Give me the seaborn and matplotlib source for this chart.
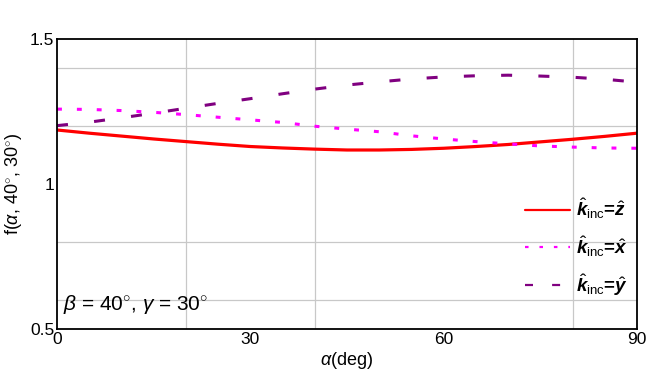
import numpy as np
import pandas as pd
import matplotlib
matplotlib.use("Agg")
import matplotlib.pyplot as plt
import seaborn as sns

# values (alpha every 5 deg)
alpha = [0, 5, 10, 15, 20, 25, 30, 35, 40, 45, 50, 55, 60, 65, 70, 75, 80, 85, 90]
f_z = [1.187, 1.176, 1.166, 1.156, 1.147, 1.138, 1.130, 1.125, 1.121, 1.118,
       1.118, 1.120, 1.124, 1.130, 1.137, 1.146, 1.155, 1.165, 1.176]
f_x = [1.259, 1.258, 1.254, 1.248, 1.240, 1.231, 1.222, 1.213, 1.200, 1.190,
       1.181, 1.167, 1.156, 1.147, 1.139, 1.132, 1.128, 1.125, 1.124]
f_y = [1.202, 1.214, 1.229, 1.245, 1.262, 1.279, 1.295, 1.312, 1.328, 1.342,
       1.353, 1.363, 1.370, 1.374, 1.376, 1.373, 1.369, 1.362, 1.352]

x_ticks = [0, 30, 60, 90]
y_ticks = [0.5, 1.0, 1.5]
y_tick_labels = ["0.5", "1", "1.5"]
x_grid = [20, 40, 60, 80]
y_grid = [0.6, 0.8, 1.0, 1.2, 1.4]

sns.set_theme(style="white")
plt.rcParams['font.family'] = ['Liberation Sans', 'DejaVu Sans']
plt.rcParams['text.color'] = 'black'
plt.rcParams['axes.labelcolor'] = 'black'
plt.rcParams['mathtext.fontset'] = 'custom'
plt.rcParams['mathtext.rm'] = 'Liberation Sans'
plt.rcParams['mathtext.it'] = 'Liberation Sans:italic'
plt.rcParams['mathtext.bf'] = 'Liberation Sans:bold'
plt.rcParams['mathtext.bfit'] = 'Liberation Sans:bold:italic'

df = pd.DataFrame({'alpha': alpha, 'z': f_z, 'x': f_x, 'y': f_y})

fig = plt.figure(figsize=(6.48, 3.81), dpi=100)
ax = fig.add_axes([0.088, 0.136, 0.895, 0.761])

sns.lineplot(data=df, x='alpha', y='z', ax=ax, color='#ff0000', lw=2.3,
             label=r'$\hat{\mathbfit{k}}_{\rm inc}$=$\hat{\mathbfit{z}}$')
sns.lineplot(data=df, x='alpha', y='x', ax=ax, color='#ff00ff', lw=2.2,
             linestyle=(0, (1.6, 4.9)),
             label=r'$\hat{\mathbfit{k}}_{\rm inc}$=$\hat{\mathbfit{x}}$')
sns.lineplot(data=df, x='alpha', y='y', ax=ax, color='#800080', lw=2.2,
             linestyle=(0, (3.6, 8.6)),
             label=r'$\hat{\mathbfit{k}}_{\rm inc}$=$\hat{\mathbfit{y}}$')

ax.set_xlim(0, 90)
ax.set_ylim(0.5, 1.5)
ax.set_xticks(x_ticks)
ax.set_xticks(x_grid, minor=True)
ax.set_yticks(y_ticks)
ax.set_yticklabels(y_tick_labels)
ax.set_yticks(y_grid, minor=True)
ax.grid(which='minor', color='#c8c8c8', lw=0.9)
ax.grid(which='major', visible=False)
ax.tick_params(which='both', length=0, labelsize=12.5, colors='black')
ax.tick_params(axis='x', pad=2)
ax.tick_params(axis='y', pad=2)

for s in ax.spines.values():
    s.set_color('black')
    s.set_linewidth(1.3)

ax.set_xlabel(r'$\alpha$(deg)', fontsize=13, labelpad=2, color='black')
ax.set_ylabel(r'f($\alpha$, 40$^{\circ}$, 30$^{\circ}$)', fontsize=13,
              labelpad=4, color='black')

ax.text(1.0, 0.565, r'$\beta$ = 40$^{\circ}$, $\gamma$ = 30$^{\circ}$',
        fontsize=15, ha='left', va='baseline', color='black')

leg = ax.legend(loc='center right', bbox_to_anchor=(1.0, 0.283), frameon=False,
                prop={'weight': 'bold', 'size': 13.5}, handlelength=2.4,
                handletextpad=0.3, labelspacing=0.7, borderaxespad=0.1)
for t in leg.get_texts():
    t.set_color('black')
for h in leg.legend_handles:
    h.set_linewidth(1.6)

fig.savefig('out.png', dpi=100)
